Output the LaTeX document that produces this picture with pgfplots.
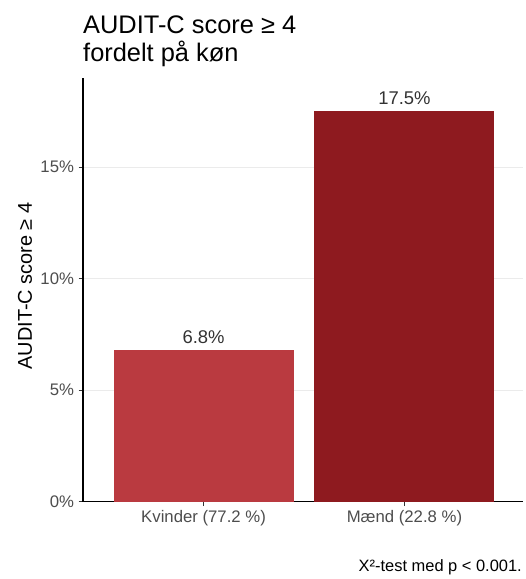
\documentclass[border=0pt]{standalone}
\usepackage{fontspec}
\setmainfont{Liberation Sans}
\usepackage{pgfplots}
\pgfplotsset{compat=1.18}
\definecolor{barA}{RGB}{186,58,64}
\definecolor{barB}{RGB}{142,26,31}
\definecolor{tickgrey}{RGB}{77,77,77}
\definecolor{gridgrey}{RGB}{235,235,235}
\definecolor{labgrey}{RGB}{51,51,51}
\begin{document}
\begin{tikzpicture}
\path[use as bounding box] (0,0) rectangle (526bp,579bp);
\begin{axis}[
  at={(83bp,77.3bp)}, anchor=south west,
  scale only axis, width=440bp, height=423.7bp,
  xmin=0.4, xmax=2.59, ymin=0, ymax=19,
  axis lines*=left,
  axis line style={black, line width=1.1bp},
  ybar, bar width=180bp, bar shift=0pt,
  xtick={1,2}, xticklabels={Kvinder (77.2 \%), Mænd (22.8 \%)},
  ytick={0,5,10,15}, yticklabels={0\%,5\%,10\%,15\%},
  ymajorgrids, grid style={gridgrey, line width=0.6bp},
  major tick length=4.5bp, tick align=outside,
  tick style={black!80, line width=0.9bp},
  /pgf/number format/assume math mode=true,
  ticklabel style={font=\fontsize{16.8}{18}\selectfont, text=tickgrey},
  xticklabel style={yshift=-1bp},
  yticklabel style={xshift=-1bp},
  nodes near coords={\pgfmathprintnumber[fixed,precision=1,fixed zerofill]{\pgfplotspointmeta}\%},
  every node near coord/.append style={anchor=base, yshift=7bp, font=\fontsize{18.5}{22}\selectfont, text=labgrey},
  clip=false,
]
\addplot[fill=barA, draw=none] coordinates {(1,6.8)};
\addplot[fill=barB, draw=none] coordinates {(2,17.5)};
\end{axis}
\node[rotate=90, anchor=center, font=\fontsize{20}{24}\selectfont, inner sep=0pt] at (25bp,293bp) {AUDIT-C score ≥ 4};
\node[anchor=base west, font=\fontsize{25.5}{28}\selectfont, inner sep=0pt] at (83bp,545bp) {AUDIT-C score ≥ 4};
\node[anchor=base west, font=\fontsize{25.5}{28}\selectfont, inner sep=0pt] at (83bp,517bp) {fordelt på køn};
\node[anchor=base east, font=\fontsize{16.5}{18}\selectfont, inner sep=0pt] at (522bp,8bp) {X²-test med p < 0.001.};
\end{tikzpicture}
\end{document}
